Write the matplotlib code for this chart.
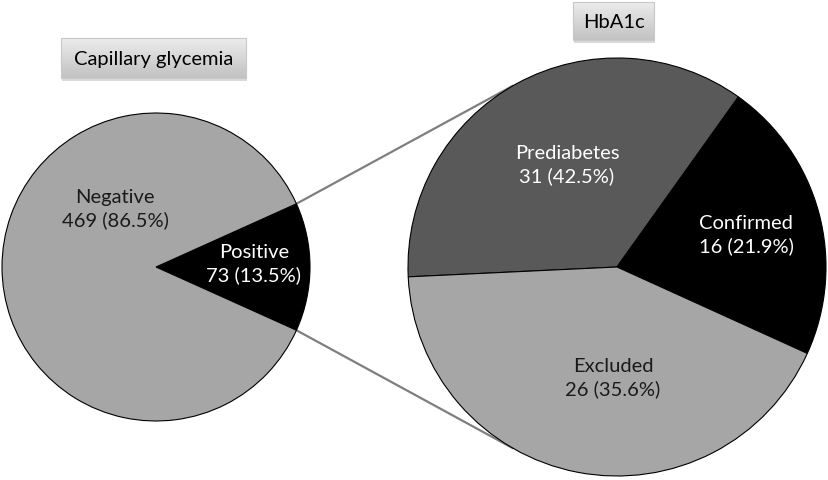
import numpy as np
import matplotlib.pyplot as plt
from matplotlib.patches import Rectangle
from matplotlib.colors import LinearSegmentedColormap

# capillary glycemia screening
cap_labels = ["Positive", "Negative"]
cap_counts = [73, 469]
cap_pct = [13.5, 86.5]

# HbA1c follow-up of the positives
hb_labels = ["Prediabetes", "Confirmed", "Excluded"]
hb_counts = [31, 16, 26]
hb_pct = [42.5, 21.9, 35.6]
# wedge sizes as drawn in the reference (Prediabetes and Excluded wedges swapped)
hb_drawn = [26, 16, 31]

W, H = 829, 481
fig = plt.figure(figsize=(W / 100, H / 100), dpi=100)
ax = fig.add_axes([0, 0, 1, 1])

font = "Lato"
fs = 14.5

# left pie
c1, r1 = (156, H - 268), 154
half = 360 * cap_counts[0] / sum(cap_counts) / 2
ax.pie(cap_counts, colors=["black", "#a6a6a6"], startangle=-half,
       center=c1, radius=r1, frame=True,
       wedgeprops=dict(edgecolor="black", linewidth=0.8))

# right pie
c2, r2 = (617, H - 268), 209
ax.pie(hb_drawn, colors=["#595959", "black", "#a6a6a6"], startangle=182.7,
       counterclock=False, center=c2, radius=r2, frame=True,
       wedgeprops=dict(edgecolor="black", linewidth=0.8))

# connector lines
for a_left, a_right in [(half, 120), (-half, -120)]:
    x0 = c1[0] + r1 * np.cos(np.radians(a_left))
    y0 = c1[1] + r1 * np.sin(np.radians(a_left))
    x1 = c2[0] + r2 * np.cos(np.radians(a_right))
    y1 = c2[1] + r2 * np.sin(np.radians(a_right))
    ax.plot([x0, x1], [y0, y1], color="#7f7f7f", lw=1.6, zorder=0.5)

# slice labels
cap_pos = [(254, 264), (115, 209)]
cap_col = ["white", "#1a1a1a"]
for lab, n, p, (x, y), col in zip(cap_labels, cap_counts, cap_pct, cap_pos, cap_col):
    ax.text(x, H - y, f"{lab}\n{n} ({p}%)", ha="center", va="center",
            color=col, fontsize=fs, family=font, linespacing=1.35)

hb_pos = [(567, 165), (746, 235), (613, 378)]
hb_col = ["white", "white", "#1a1a1a"]
for lab, n, p, (x, y), col in zip(hb_labels, hb_counts, hb_pct, hb_pos, hb_col):
    ax.text(x, H - y, f"{lab}\n{n} ({p}%)", ha="center", va="center",
            color=col, fontsize=fs, family=font, linespacing=1.35)

# title boxes with gradient and shadow
box_cmap = LinearSegmentedColormap.from_list("box", ["#ececec", "#c2c2c2"])

def title_box(x0, x1, y0, y1, text):
    ax.add_patch(Rectangle((x0 + 1, H - y1 - 3), x1 - x0, y1 - y0,
                           facecolor="#a0a0a0", edgecolor="none", alpha=0.4, zorder=2))
    grad = np.linspace(0, 1, 50).reshape(-1, 1)
    ax.imshow(grad, cmap=box_cmap, aspect="auto",
              extent=(x0, x1, H - y1, H - y0), zorder=3)
    ax.add_patch(Rectangle((x0, H - y1), x1 - x0, y1 - y0, facecolor="none",
                           edgecolor="#c8c8c8", lw=0.8, zorder=4))
    ax.text((x0 + x1) / 2, H - (y0 + y1) / 2, text, ha="center", va="center",
            fontsize=fs, family=font, color="black", zorder=5)

title_box(61, 246, 39, 79, "Capillary glycemia")
title_box(573, 654, 3, 41, "HbA1c")

ax.set_xlim(0, W)
ax.set_ylim(0, H)
ax.set_aspect("equal")
ax.axis("off")

fig.savefig("out.png", dpi=100, facecolor="white")
